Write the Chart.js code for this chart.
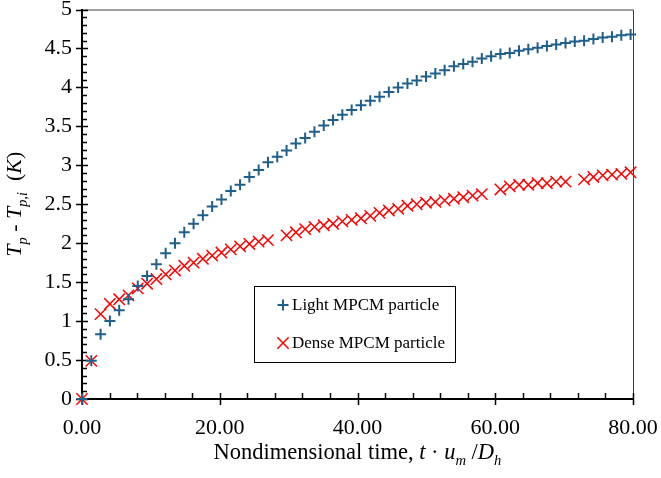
<!DOCTYPE html>
<html>
<head>
<meta charset="utf-8">
<script src="https://cdn.jsdelivr.net/npm/chart.js@4.4.1/dist/chart.umd.min.js"></script>
<style>
  html, body { margin: 0; padding: 0; background: #fff; }
  canvas { display: block; }
</style>
</head>
<body>
<canvas id="tempChart" width="661" height="478"></canvas>
<script>
// nondimensional time of each sample
const times = [0, 1.35, 2.70, 4.05, 5.40, 6.75, 8.10, 9.45, 10.80, 12.15,
  13.50, 14.85, 16.20, 17.55, 18.90, 20.25, 21.60, 22.95, 24.30, 25.65,
  27.00, 28.35, 29.70, 31.05, 32.40, 33.75, 35.10, 36.45, 37.80, 39.15,
  40.50, 41.85, 43.20, 44.55, 45.90, 47.25, 48.60, 49.95, 51.30, 52.65,
  54.00, 55.35, 56.70, 58.05, 59.40, 60.75, 62.10, 63.45, 64.80, 66.15,
  67.50, 68.85, 70.20, 71.55, 72.90, 74.25, 75.60, 76.95, 78.30, 79.65];

// Tp - Tp,i (K)
const lightRise = [0, 0.49, 0.83, 1.00, 1.14, 1.28, 1.45, 1.58, 1.73, 1.87,
  2.00, 2.14, 2.25, 2.36, 2.47, 2.56, 2.67, 2.75, 2.85, 2.94,
  3.04, 3.11, 3.19, 3.28, 3.35, 3.43, 3.51, 3.58, 3.65, 3.71,
  3.77, 3.83, 3.88, 3.94, 4.00, 4.05, 4.09, 4.14, 4.18, 4.22,
  4.27, 4.30, 4.33, 4.37, 4.40, 4.43, 4.44, 4.47, 4.49, 4.51,
  4.53, 4.55, 4.57, 4.59, 4.60, 4.62, 4.64, 4.65, 4.67, 4.68];

const denseRise = [0, 0.49, 1.09, 1.22, 1.28, 1.33, 1.42, 1.48, 1.54, 1.60,
  1.65, 1.71, 1.75, 1.80, 1.84, 1.88, 1.92, 1.96, 1.99, 2.02,
  2.04, null, 2.10, 2.14, 2.18, 2.21, 2.23, 2.25, 2.28, 2.30,
  2.32, 2.35, 2.39, 2.42, 2.44, 2.48, 2.50, 2.52, 2.53, 2.55,
  2.57, 2.59, 2.61, 2.63, null, 2.69, 2.73, 2.75, 2.75, 2.77,
  2.77, 2.79, 2.79, null, 2.82, 2.85, 2.87, 2.88, 2.89, 2.91];

const seriesNames = ['Light MPCM particle', 'Dense MPCM particle'];
const xTickLabels = ['0.00', '20.00', '40.00', '60.00', '80.00'];
const yTickLabels = ['0', '0.5', '1', '1.5', '2', '2.5', '3', '3.5', '4', '4.5', '5'];

const serif = "'Liberation Serif', 'Times New Roman', serif";
const blue = '#1f5f8c';
const red = '#ff0000';

function toPoints(values) {
  const pts = [];
  values.forEach((v, i) => {
    if (v !== null) pts.push({ x: times[i], y: v });
  });
  return pts;
}

// text pieces: {t, it, sub}
function partFont(p, size) {
  return (p.it ? 'italic ' : '') + (p.sub ? size * 0.65 : size) + 'px ' + serif;
}

function richWidth(ctx, parts, size) {
  let w = 0;
  parts.forEach(p => { ctx.font = partFont(p, size); w += ctx.measureText(p.t).width; });
  return w;
}

function drawRich(ctx, parts, x, y, size) {
  ctx.textAlign = 'left';
  ctx.textBaseline = 'alphabetic';
  parts.forEach(p => {
    ctx.font = partFont(p, size);
    ctx.fillText(p.t, x, p.sub ? y + size * 0.25 : y);
    x += ctx.measureText(p.t).width;
  });
}

const xTitle = [
  { t: 'Nondimensional time, ' }, { t: 't', it: true }, { t: ' \u00b7 ' },
  { t: 'u', it: true }, { t: 'm', it: true, sub: true }, { t: ' /' },
  { t: 'D', it: true }, { t: 'h', it: true, sub: true }
];
const yTitle = [
  { t: 'T', it: true }, { t: 'p', it: true, sub: true }, { t: ' - ' },
  { t: 'T', it: true }, { t: 'p,i', it: true, sub: true }, { t: '  (' },
  { t: 'K', it: true }, { t: ')' }
];

// minor/major tick marks, frame, titles and boxed legend
const decorations = {
  id: 'decorations',
  beforeDatasetsDraw(chart) {
    const ctx = chart.ctx;
    const a = chart.chartArea;
    const xs = chart.scales.x, ys = chart.scales.y;
    ctx.save();
    ctx.strokeStyle = '#404040';
    ctx.lineWidth = 1;
    ctx.beginPath();
    ctx.moveTo(a.left, a.top + 0.5);
    ctx.lineTo(a.right + 0.5, a.top + 0.5);
    ctx.lineTo(a.right + 0.5, a.bottom);
    ctx.stroke();

    ctx.strokeStyle = '#000';
    ctx.lineWidth = 1.5;
    ctx.beginPath();
    for (let i = 0; i <= 50; i++) {
      const py = Math.round(ys.getPixelForValue(i / 10)) + 0.5;
      if (i % 5 === 0) { ctx.moveTo(a.left - 6, py); ctx.lineTo(a.left + 6, py); }
      else { ctx.moveTo(a.left, py); ctx.lineTo(a.left + 5, py); }
    }
    for (let i = 0; i <= 20; i++) {
      const px = Math.round(xs.getPixelForValue(i * 4)) + 0.5;
      if (i % 5 === 0) { ctx.moveTo(px, a.bottom - 6); ctx.lineTo(px, a.bottom + 6); }
      else { ctx.moveTo(px, a.bottom - 6); ctx.lineTo(px, a.bottom); }
    }
    ctx.stroke();
    ctx.restore();
  },
  afterDraw(chart) {
    const ctx = chart.ctx;
    const a = chart.chartArea;
    ctx.save();
    ctx.fillStyle = '#000';
    const wx = richWidth(ctx, xTitle, 22.5);
    drawRich(ctx, xTitle, (a.left + a.right) / 2 - wx / 2, 459, 22.5);

    ctx.translate(21, (a.top + a.bottom) / 2);
    ctx.rotate(-Math.PI / 2);
    const wy = richWidth(ctx, yTitle, 22);
    drawRich(ctx, yTitle, -wy / 2, 0, 22);
    ctx.restore();

    // legend
    ctx.save();
    ctx.strokeStyle = '#000';
    ctx.lineWidth = 1;
    ctx.strokeRect(254.5, 286.5, 201, 76);
    chart.data.datasets.forEach((ds, i) => {
      const y = 305 + i * 38;
      ctx.strokeStyle = ds.borderColor;
      ctx.lineWidth = ds.borderWidth;
      Chart.helpers.drawPoint(ctx, { pointStyle: ds.pointStyle, radius: ds.pointRadius, borderWidth: ds.borderWidth, rotation: 0 }, 283, y);
      ctx.fillStyle = '#000';
      ctx.font = '17px ' + serif;
      ctx.textAlign = 'left';
      ctx.textBaseline = 'middle';
      ctx.fillText(ds.label, 292, y + 1);
    });
    ctx.restore();
  }
};

new Chart(document.getElementById('tempChart'), {
  type: 'scatter',
  data: {
    datasets: [{
      label: seriesNames[0],
      data: toPoints(lightRise),
      pointStyle: 'cross',
      pointRadius: 5.5,
      borderColor: blue,
      backgroundColor: blue,
      borderWidth: 2,
      clip: false
    }, {
      label: seriesNames[1],
      data: toPoints(denseRise),
      pointStyle: 'crossRot',
      pointRadius: 8,
      borderColor: red,
      backgroundColor: red,
      borderWidth: 1.5,
      clip: false
    }]
  },
  options: {
    responsive: false,
    animation: false,
    layout: { padding: { top: 9, right: 28, left: 0, bottom: 0 } },
    plugins: {
      legend: { display: false },
      tooltip: { enabled: false }
    },
    scales: {
      x: {
        type: 'linear',
        min: 0,
        max: 80,
        afterFit: s => { s.height = 79; s.paddingLeft = 0; s.paddingRight = 0; },
        grid: { display: false, drawTicks: false },
        border: { display: true, color: '#000', width: 2 },
        ticks: {
          stepSize: 20,
          padding: 16,
          color: '#000',
          font: { family: serif, size: 22 },
          maxRotation: 0,
          callback: v => xTickLabels[Math.round(v / 20)]
        }
      },
      y: {
        min: 0,
        max: 5,
        afterFit: s => { s.width = 82; s.paddingTop = 0; s.paddingBottom = 0; },
        grid: { display: false, drawTicks: false },
        border: { display: true, color: '#000', width: 2 },
        ticks: {
          stepSize: 0.5,
          padding: 10,
          color: '#000',
          font: { family: serif, size: 22 },
          callback: v => yTickLabels[Math.round(v * 2)]
        }
      }
    }
  },
  plugins: [decorations]
});
</script>
</body>
</html>
